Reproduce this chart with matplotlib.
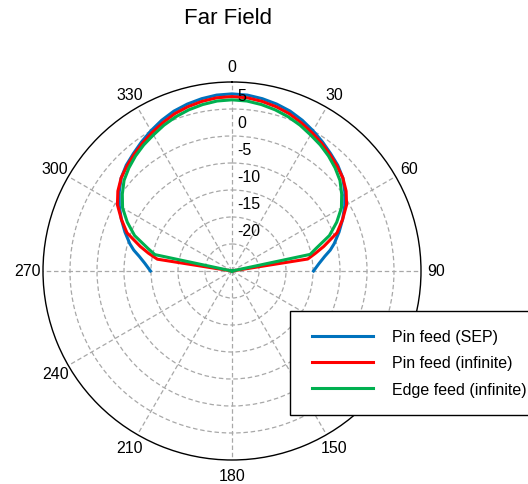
import numpy as np
import matplotlib
matplotlib.use("Agg")
import matplotlib.pyplot as plt
from matplotlib.patches import Rectangle

plt.rcParams["font.family"] = ["Liberation Sans", "DejaVu Sans"]

# elevation cut, degrees from broadside
theta_deg = [-90, -85, -81, -78, -75, -70, -65, -60, -55, -50, -45, -40, -35, -30,
             -25, -20, -15, -10, -5, 0, 5, 10, 15, 20, 25, 30, 35, 40, 45, 50,
             55, 60, 65, 70, 75, 78, 81, 85, 90]

# far field in dBi, floored at the plot origin (-25)
pin_sep = [-9.9, -8.8, -7.6, -6.4, -5.4, -3.9, -2.4, -0.9, 0.5, 1.8, 2.7, 3.4, 4.2, 5.0,
           5.8, 6.5, 7.0, 7.4, 7.7, 7.8, 7.7, 7.4, 7.0, 6.5, 5.8, 5.0, 4.2, 3.4, 2.7, 1.8,
           0.5, -0.9, -2.4, -3.9, -5.4, -6.4, -7.6, -8.8, -9.9]
pin_inf = [-25, -25, -11.0, -9.2, -7.4, -4.3, -2.4, -0.5, 0.8, 1.8, 2.5, 3.2, 3.9, 4.6,
           5.3, 6.0, 6.5, 6.9, 7.2, 7.3, 7.2, 6.9, 6.5, 6.0, 5.3, 4.6, 3.9, 3.2, 2.5, 1.8,
           0.8, -0.5, -2.4, -4.3, -7.4, -9.2, -10.8, -25, -25]
edge_inf = [-25, -25, -25, -10.4, -8.9, -5.8, -3.6, -1.6, -0.2, 1.1, 2.0, 2.8, 3.5, 4.1,
            4.8, 5.4, 5.9, 6.3, 6.6, 6.7, 6.6, 6.3, 5.9, 5.4, 4.8, 4.1, 3.5, 2.8, 2.0, 1.1,
            -0.2, -1.6, -3.6, -5.8, -8.9, -10.2, -25, -25, -25]

series = [pin_sep, pin_inf, edge_inf]
labels = ["Pin feed (SEP)", "Pin feed (infinite)", "Edge feed (infinite)"]
colors = ["#0072bd", "#ff0000", "#00b050"]

r_ticks = [-20, -15, -10, -5, 0, 5]
r_min, r_max = -25, 10
angle_ticks = list(range(0, 360, 30))

W, H = 528, 485


def main():
    fig = plt.figure(figsize=(W / 100, H / 100), dpi=100)
    ax = fig.add_axes([43 / W, 24 / H, 378 / W, 378 / H], projection="polar")
    ax.set_theta_zero_location("N")
    ax.set_theta_direction(-1)

    th = np.deg2rad(theta_deg)
    handles = []
    for vals, c, lab in zip(series, colors, labels):
        (h,) = ax.plot(th, vals, color=c, lw=2.2, label=lab)
        handles.append(h)

    ax.set_ylim(r_min, r_max)
    ax.set_yticks(r_ticks)
    ax.set_yticklabels([])
    ax.set_xticks(np.deg2rad(angle_ticks))
    ax.set_xticklabels([str(a) for a in angle_ticks], fontsize=11.5)
    ax.tick_params(axis="x", pad=0.5)
    ax.grid(True, color="#a8a8a8", linestyle=(0, (3.6, 2.2)), linewidth=0.9)
    ax.spines["polar"].set_color("black")
    ax.spines["polar"].set_linewidth(1.0)

    for v in r_ticks:
        ax.annotate(str(v), xy=(0, v), xytext=(3.6, 9.4), textcoords="offset points",
                    ha="left", va="center", fontsize=11.5)

    fig.text(228 / W, 1 - 18 / H, "Far Field", ha="center", va="center", fontsize=16)

    # legend box runs off the right edge
    fig.add_artist(Rectangle((290 / W, 1 - 416 / H), 260 / W, 104 / H,
                             transform=fig.transFigure, facecolor="white",
                             edgecolor="black", lw=1.0, zorder=5))
    leg = fig.legend(handles, labels, loc="center left",
                     bbox_to_anchor=(312 / W, 1 - 364 / H), bbox_transform=fig.transFigure,
                     frameon=False, fontsize=11.5, handlelength=3.83, handletextpad=1.17,
                     labelspacing=0.7, borderpad=0, borderaxespad=0)
    leg.set_zorder(6)

    fig.savefig("out.png", dpi=100)


if __name__ == "__main__":
    main()
